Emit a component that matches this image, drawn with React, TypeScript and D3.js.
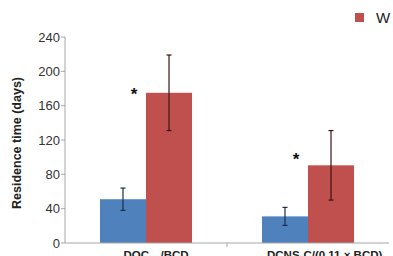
import React from 'react'
import * as d3 from 'd3'

// residence time per treatment, two series per group
const groups = ['DOC/BCD', 'DCNS-C/(0.11 × BCD)']
const seriesNames = ['C', 'W']
const seriesColors = ['#4f81bd', '#c0504d']
const errColors = ['#1b2f4a', '#3a1412']
const blueMeans = [51, 31]
const blueSd = [13, 10.5]
const redMeans = [175, 90.5]
const redSd = [44, 40.5]
const sigLevels = [181, 105]
const yTicks = [0, 40, 80, 120, 160, 200, 240]

const W = 393
const H = 256
const margin = { top: 37, right: 4, bottom: 13, left: 65 }

export default function App() {
  const x = d3.scaleBand<string>()
    .domain(groups)
    .range([margin.left, W - margin.right])
  const xInner = d3.scaleBand<string>()
    .domain(seriesNames)
    .range([0, x.bandwidth()])
    .paddingInner(0)
    .paddingOuter(0.76)
  const y = d3.scaleLinear()
    .domain([0, 240])
    .range([H - margin.bottom, margin.top])

  const means = [blueMeans, redMeans]
  const sds = [blueSd, redSd]
  const font = '"Liberation Sans", Arial, sans-serif'
  const y0 = y(0)

  return (
    <svg width={W} height={H} style={{ position: 'absolute', left: 0, top: 0, background: '#fff' }}
      fontFamily={font}>
      {/* y axis */}
      <line x1={margin.left} x2={margin.left} y1={y(240)} y2={y0} stroke="#a6a6a6" />
      {yTicks.map(t => (
        <g key={t}>
          <line x1={margin.left - 4} x2={margin.left} y1={y(t)} y2={y(t)} stroke="#a6a6a6" />
          <text x={margin.left - 5} y={y(t)} dy="0.35em" textAnchor="end" fontSize={13} fill="#333">{t}</text>
        </g>
      ))}
      <text transform={`translate(21,${(y(240) + y0) / 2 + 3}) rotate(-90)`} textAnchor="middle"
        fontSize={12.5} fontWeight="bold" fill="#222">Residence time (days)</text>

      {/* bars with error bars */}
      {groups.map((g, gi) => (
        <g key={g} transform={`translate(${x(g)},0)`}>
          {seriesNames.map((s, si) => {
            const m = means[si][gi]
            const sd = sds[si][gi]
            const bx = xInner(s)!
            const cx = bx + xInner.bandwidth() / 2
            return (
              <g key={s}>
                <rect x={bx} y={y(m)} width={xInner.bandwidth()} height={y0 - y(m)} fill={seriesColors[si]} />
                <line x1={cx} x2={cx} y1={y(m + sd)} y2={y(m - sd)} stroke={errColors[si]} strokeWidth={1.2} />
                <line x1={cx - 2.5} x2={cx + 2.5} y1={y(m + sd)} y2={y(m + sd)} stroke={errColors[si]} strokeWidth={1.2} />
                <line x1={cx - 2.5} x2={cx + 2.5} y1={y(m - sd)} y2={y(m - sd)} stroke={errColors[si]} strokeWidth={1.2} />
              </g>
            )
          })}
          <text x={xInner('W')! - 12} y={y(sigLevels[gi])} dy="0.7em" textAnchor="middle"
            fontSize={17} fontWeight="bold" fill="#111">*</text>
        </g>
      ))}

      {/* x axis with group separators */}
      <line x1={margin.left} x2={W - margin.right} y1={y0} y2={y0} stroke="#a6a6a6" />
      {groups.slice(1).map(g => (
        <line key={g} x1={x(g)} x2={x(g)} y1={y0} y2={y0 + 4} stroke="#a6a6a6" />
      ))}
      <text x={x(groups[0])! + x.bandwidth() / 2 + 10} y={y0 + 16} textAnchor="middle"
        fontSize={11.5} fontWeight="bold" fill="#222">
        DOC<tspan fontSize={8} dy={4}>sol</tspan><tspan dy={-4}>/BCD</tspan>
      </text>
      <text x={x(groups[1])! + 40} y={y0 + 16} textAnchor="start"
        fontSize={11.5} fontWeight="bold" fill="#222">{groups[1]}</text>

      {/* legend */}
      <rect x={355} y={13} width={9} height={9} fill={seriesColors[1]} />
      <text x={376} y={23} fontSize={15} fill="#222">{seriesNames[1]}</text>
    </svg>
  )
}
